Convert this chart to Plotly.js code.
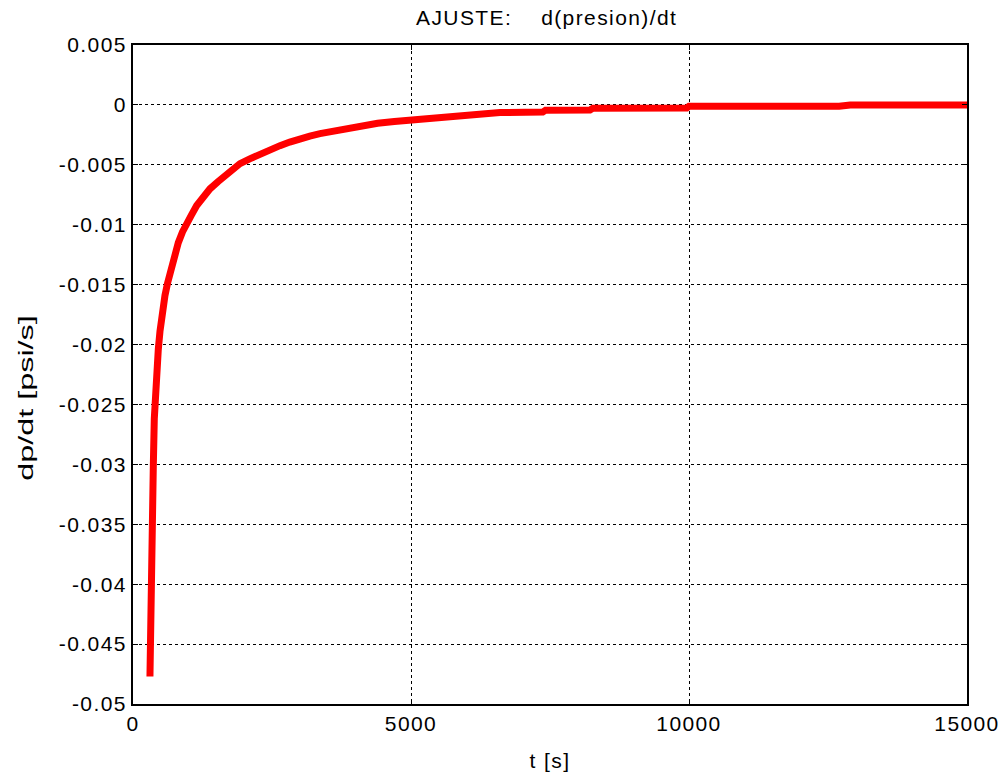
<!DOCTYPE html>
<html>
<head>
<meta charset="utf-8">
<script src="https://cdn.plot.ly/plotly-3.0.1.min.js"></script>
<style>
html,body{margin:0;padding:0;background:#fff;}
#chart{width:1003px;height:775px;}
#chart .xtick text, #chart .ytick text, #chart .gtitle, #chart .xtitle { letter-spacing: 1.4px; }
</style>
</head>
<body>
<div id="chart"></div>
<script>
// time [s]
var tValues = [305, 312, 318, 326, 336, 350, 365, 383, 400, 414, 435, 455, 485, 516, 545, 575, 620, 665, 740, 815, 890, 966, 1050, 1146, 1260, 1385, 1530, 1685, 1800, 1924, 2100, 2284, 2460, 2644, 2820, 3004, 3180, 3363, 3530, 3693, 3900, 4150, 4400, 4700, 4982, 5300, 5650, 6000, 6300, 6600, 7370, 7420, 8220, 8270, 9960, 10000, 12700, 12900, 15000];
// dp/dt [psi/s]
var dpdtValues = [-0.0477, -0.0440, -0.0413, -0.0385, -0.0357, -0.0330, -0.0302, -0.0262, -0.0244, -0.0232, -0.0217, -0.0204, -0.0189, -0.0176, -0.0166, -0.0159, -0.0149, -0.0140, -0.0126, -0.0115, -0.0106, -0.0098, -0.0092, -0.0084, -0.0077, -0.0070, -0.0064, -0.0058, -0.0054, -0.0049, -0.0045, -0.0041, -0.0037, -0.0034, -0.0031, -0.0028, -0.0026, -0.0024, -0.00225, -0.0021, -0.0019, -0.0017, -0.00153, -0.00138, -0.00125, -0.00112, -0.00098, -0.00085, -0.00075, -0.00064, -0.0006, -0.00044, -0.00042, -0.00028, -0.00026, -0.00011, -0.00011, 0, 0];

var xTickVals = [0, 5000, 10000, 15000];
var xTickText = ["0", "5000", "10000", "15000"];
var yTickVals = [0.005, 0, -0.005, -0.01, -0.015, -0.02, -0.025, -0.03, -0.035, -0.04, -0.045, -0.05];
var yTickText = ["0.005", "0", "-0.005", "-0.01", "-0.015", "-0.02", "-0.025", "-0.03", "-0.035", "-0.04", "-0.045", "-0.05"];

var FONT = "Liberation Sans, Arial, Helvetica, sans-serif";

var trace = {
  x: tValues,
  y: dpdtValues,
  type: "scatter",
  mode: "lines",
  line: {color: "#ff0000", width: 7},
  hoverinfo: "x+y"
};

var axisCommon = {
  showline: true,
  linecolor: "#000",
  linewidth: 2,
  mirror: "allticks",
  ticks: "inside",
  ticklen: 5,
  tickwidth: 1,
  tickcolor: "#000",
  showgrid: true,
  gridcolor: "#000",
  gridwidth: 1,
  griddash: "dot",
  zeroline: false,
  tickfont: {family: FONT, size: 21, color: "#000"},
  tickmode: "array"
};

var layout = {
  width: 1003,
  height: 775,
  margin: {l: 133, r: 36, t: 45, b: 71},
  paper_bgcolor: "#fff",
  plot_bgcolor: "#fff",
  showlegend: false,
  title: {
    text: "AJUSTE:\u00a0\u00a0\u00a0\u00a0d(presion)/dt",
    font: {family: FONT, size: 21, color: "#000"},
    x: 0.496, xref: "paper", xanchor: "center",
    y: 0.977, yref: "container", yanchor: "middle"
  },
  xaxis: Object.assign({}, axisCommon, {
    range: [0, 15000],
    tickvals: xTickVals,
    ticktext: xTickText,
    title: {text: "t [s]", font: {family: FONT, size: 21, color: "#000"}, standoff: 19}
  }),
  yaxis: Object.assign({}, axisCommon, {
    range: [-0.05, 0.005],
    tickvals: yTickVals,
    ticktext: yTickText,
    title: {text: "dp/dt [psi/s]", font: {family: FONT, size: 20, color: "#000"}, standoff: 12}
  })
};

Plotly.newPlot("chart", [trace], layout, {displayModeBar: false}).then(function () {
  // The reference draws the y label elongated along its direction; reproduce that.
  var el = document.querySelector("#chart text.ytitle");
  if (el) {
    el.setAttribute("x", 0);
    el.setAttribute("y", 0);
    el.setAttribute("text-anchor", "middle");
    el.setAttribute("transform", "translate(32.5,398) rotate(-90) scale(1.62,1)");
  }
});
</script>
</body>
</html>
